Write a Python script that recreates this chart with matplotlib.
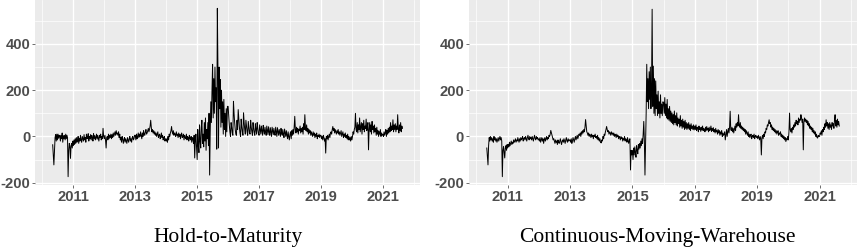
import numpy as np
import pandas as pd
import matplotlib
matplotlib.use("Agg")
import matplotlib.pyplot as plt

# 周数据, 每年一行 (2010 从 5 月 2 日开始, 2021 到 8 月)
htm_2010 = [-36, -80, -123, -60, -5, 8, -20, 10, -15, 10, -8, 5, 0, -20, 5, -10, 15, -25, 3, -10,
            5, -15, 10, -10, 5, -5, -174, -60, -30, -45, -95, -40, -30, -50, -20]
htm_2011 = [-40, -15, -35, -10, -30, -5, -25, -15, 0, -30, -10, -20, 5, -15, -25, 0, -10, -20, 8, -15,
            -5, -25, 10, -10, -5, 12, -20, 0, -10, 8, -15, 5, -5, -20, 12, -8, 3, -15, -5, 10,
            -12, 5, -8, -20, 5, -5, 10, -15, 0, -10, 35, 0]
htm_2012 = [-10, 5, -15, -50, -5, 0, -15, 10, -10, 5, -5, 10, -10, 8, -5, 15, 0, 10, 20, 5,
            25, 10, 15, 5, 20, -5, 10, -15, -5, -25, 0, -10, -30, -15, -5, -25, -10, -20, -30, -5,
            -15, -25, -10, 0, -20, -10, -25, -5, 0, -15, -10, 5]
htm_2013 = [5, -15, 10, -10, 0, 15, -5, 10, 0, 20, 5, -10, 15, 0, 25, 10, 5, 20, 30, 10,
            15, 25, 35, 20, 30, 45, 70, 40, 20, 30, 15, 25, 10, 20, 5, 15, 0, 10, 20, -5,
            5, 10, -10, 0, 15, -5, 5, -15, -5, 0, -20, -10]
htm_2014 = [-20, -10, -25, 0, -15, 10, 0, 15, 25, 43, 20, 10, 25, 5, 15, 10, 0, 20, 5, 10,
            -5, 15, 0, 10, -10, 5, 15, -5, 0, 10, -15, 5, -5, -10, 10, -15, 0, -5, -20, 5,
            -10, -15, 0, -25, -5, -10, -30, 5, -93, -20, 10, -40]
htm_2015 = [-100, 30, -40, -70, 50, -20, -50, 40, 70, -30, 10, -45, 60, -20, 80, -60, 30, -10, 60, -40,
            100, -167, 20, 150, 60, 200, 312, 80, 250, 100, 300, 150, 210, -55, 554, 300, -50, 300, 120, 246,
            40, 200, 60, 150, 10, 160, 30, 100, 0, 120, 20, 130]
htm_2016 = [130, 90, 50, 20, 0, 60, 40, 15, 5, 152, 100, 60, 30, 10, 5, 70, 30, 116, 80, 40,
            15, 0, 75, 40, 20, 5, 102, 60, 30, 10, 70, 45, 20, 5, 65, 40, 15, 10, 70, 40,
            20, 5, 60, 35, 15, 5, 55, 30, 10, 60, 35, 15]
htm_2017 = [5, 50, 30, 10, 45, 25, 5, 48, 25, 10, 40, 20, 5, 45, 25, 8, 42, 20, 5, 38,
            20, 0, 40, 25, 8, 35, 15, 5, 40, 20, 0, 38, 20, 5, 30, 15, 0, 35, 15, 5,
            30, 10, -5, 32, 15, 0, 25, 5, -10, 20, 0, -15]
htm_2018 = [10, 20, -10, 25, 5, 30, 10, 40, 87, 30, 15, 40, 20, 35, 10, 30, 25, 45, 15, 35,
            20, 40, 10, 55, 30, 94, 40, 25, 50, 20, 35, 10, 30, 15, 25, 5, 20, 10, 0, 20,
            5, 15, -5, 10, 0, 15, -10, 5, 0, 10, -5, 5]
htm_2019 = [5, -10, 0, -15, 5, -5, -20, -10, -72, 0, -10, 5, -15, 0, 10, -5, 15, 20, 10, 30,
            43, 25, 35, 15, 30, 20, 10, 25, 15, 30, 10, 20, 5, 15, 25, 0, 10, 20, -5, 10,
            0, 15, -5, 5, -10, 10, -15, 0, -15, -5, -20, 0]
htm_2020 = [-15, 0, 20, 10, 30, 40, 100, 30, 20, 60, 15, 50, 30, 80, 20, 40, 60, 10, 55, 30,
            70, 20, 45, 35, 75, 25, 40, 60, -58, 30, 60, 20, 50, 10, 65, 30, 45, 15, 50, 20,
            35, 5, 40, 10, 25, 0, 20, 10, 30, 0, 15, 5]
htm_2021 = [10, 0, 20, 5, 15, 30, 0, 25, 10, 35, 15, 40, 20, 60, 25, 45, 30, 72, 20, 50,
            30, 55, 20, 45, 30, 94, 35, 15, 50, 25, 60, 20, 45, 35]

cmw_2010 = [-50, -90, -123, -40, -5, -20, 0, -15, -5, -20, -10, -25, 0, -15, -5, -20, -10, -25, -15, -5,
            -20, -10, 0, -15, -5, -20, -174, -60, -43, -70, -93, -50, -40, -60, -35]
cmw_2011 = [-50, -35, -45, -25, -40, -30, -20, -35, -25, -30, -15, -25, -20, -10, -25, -15, -20, -5, -15, -25,
            -10, -20, -5, -15, -10, 0, -20, -10, -5, -15, 0, -10, -20, -5, 5, -10, -15, 0, -10, -5,
            -15, 0, -10, -20, -5, 5, -10, -15, 0, -10, -5, -15]
cmw_2012 = [-10, -20, -5, -25, -15, -5, -20, -10, -30, -15, -5, -20, -10, 0, -15, -5, -10, 5, 0, 10,
            26, 15, 5, -5, -15, -10, -20, -30, -15, -25, -20, -35, -15, -25, -30, -20, -10, -25, -35, -20,
            -15, -25, -10, -20, -30, -15, -5, -20, -25, -10, -20, -15]
cmw_2013 = [-15, -25, -10, -30, -20, -5, -15, -25, -10, 0, -15, -5, 5, -10, 0, 10, 5, 15, 0, 20,
            10, 25, 15, 30, 20, 40, 73, 45, 20, 15, 5, 15, 0, 10, 5, -5, 10, 0, 5, -10,
            5, 0, 10, -5, 0, -10, 5, -15, -5, -20, -10, -25]
cmw_2014 = [-28, -15, -20, 0, -10, 10, 5, 20, 30, 43, 30, 20, 25, 10, 20, 15, 5, 20, 10, 15,
            5, 15, 0, 10, 5, -5, 10, 0, 5, -10, 0, -5, -15, 0, -10, -5, -20, -10, -15, 0,
            -20, -10, -15, -25, -5, -20, -30, -15, -10, -145, -60, -80]
cmw_2015 = [-60, -100, -50, -80, -45, -70, -90, -40, -60, -75, -35, -55, -30, -50, -20, -40, -10, -30, 10, 65,
            -20, -167, -40, 100, 312, 150, 250, 120, 280, 160, 300, 120, 220, 550, 130, 304, 100, 250, 90, 240,
            120, 180, 90, 196, 100, 150, 80, 180, 100, 140, 90, 150]
cmw_2016 = [146, 100, 168, 90, 140, 80, 160, 75, 120, 70, 130, 65, 110, 60, 102, 55, 95, 50, 110, 60,
            90, 50, 102, 45, 80, 55, 75, 40, 90, 45, 70, 35, 75, 40, 65, 30, 70, 35, 60, 30,
            55, 35, 60, 30, 50, 25, 55, 35, 45, 30, 50, 28]
cmw_2017 = [45, 30, 50, 25, 40, 35, 20, 45, 30, 38, 22, 40, 28, 45, 25, 35, 30, 20, 40, 25,
            43, 28, 35, 20, 40, 25, 30, 45, 22, 35, 25, 38, 20, 30, 15, 35, 20, 25, 10, 30,
            15, 25, 5, 20, 10, 25, 0, 15, 5, 10, 20, -15]
cmw_2018 = [10, 30, 0, 20, 35, 15, 40, 109, 30, 25, 40, 20, 35, 15, 30, 45, 25, 55, 40, 60,
            45, 94, 50, 40, 60, 35, 45, 30, 40, 25, 35, 20, 30, 10, 25, 15, 5, 20, 0, 10,
            -5, 5, 10, -10, 0, 5, -5, 10, -10, 0, 5, -5]
cmw_2019 = [0, -10, 5, -5, -15, 0, -10, -80, -5, 5, -10, 10, 0, 20, 15, 35, 30, 50, 45, 60,
            72, 55, 60, 40, 50, 30, 40, 25, 35, 20, 30, 15, 25, 10, 20, 25, 5, 15, 10, 20,
            0, 10, -5, 5, -10, 0, -15, -5, -22, -10, -15, 0]
cmw_2020 = [-15, 20, 101, 30, 20, 35, 15, 40, 30, 50, 40, 60, 45, 70, 55, 65, 50, 80, 60, 75,
            70, 94, 80, 60, 75, -58, 60, 80, 65, 75, 60, 70, 50, 65, 45, 55, 35, 45, 30, 40,
            20, 35, 15, 25, 10, 20, 0, 10, -5, -7, 5, 0]
cmw_2021 = [0, 15, 10, 25, 5, 30, 20, 40, 30, 55, 40, 72, 45, 60, 35, 55, 30, 60, 40, 50,
            30, 60, 45, 55, 35, 70, 94, 45, 70, 40, 75, 50, 65, 45]

htm_rows = [htm_2010, htm_2011, htm_2012, htm_2013, htm_2014, htm_2015,
            htm_2016, htm_2017, htm_2018, htm_2019, htm_2020, htm_2021]
cmw_rows = [cmw_2010, cmw_2011, cmw_2012, cmw_2013, cmw_2014, cmw_2015,
            cmw_2016, cmw_2017, cmw_2018, cmw_2019, cmw_2020, cmw_2021]
years = list(range(2010, 2022))

titles = ["Hold-to-Maturity", "Continuous-Moving-Warehouse"]
x_ticks = [2011, 2013, 2015, 2017, 2019, 2021]
y_ticks = [-200, 0, 200, 400]


def build(rows):
    parts = []
    for yr, row in zip(years, rows):
        start = "2010-05-02" if yr == 2010 else f"{yr}-01-01"
        d = pd.date_range(start, periods=len(row), freq="7D")
        parts.append(pd.Series(row, index=d))
    s = pd.concat(parts)
    t = s.index.year + (s.index.dayofyear - 1) / 365.25
    return np.asarray(t), s.values


fig = plt.figure(figsize=(8.58, 2.48), dpi=100)
ax1 = fig.add_axes([0.0408, 0.254, 0.4487, 0.746])
ax2 = fig.add_axes([0.5466, 0.254, 0.4522, 0.746])

for ax, rows, title, cx in [(ax1, htm_rows, titles[0], 0.2655), (ax2, cmw_rows, titles[1], 0.7663)]:
    t, y = build(rows)
    ax.set_facecolor("#EBEBEB")
    ax.plot(t, y, color="black", lw=0.7)
    ax.set_xlim(2009.76, 2022.2)
    ax.set_ylim(-210, 590)
    ax.set_xticks(x_ticks)
    ax.set_xticks([2010, 2012, 2014, 2016, 2018, 2020, 2022], minor=True)
    ax.set_yticks(y_ticks)
    ax.set_yticks([-100, 100, 300, 500], minor=True)
    ax.set_xticklabels([str(v) for v in x_ticks])
    ax.set_yticklabels([str(v) for v in y_ticks])
    ax.grid(which="major", color="white", lw=1.0)
    ax.grid(which="minor", color="white", lw=0.5)
    ax.set_axisbelow(True)
    for s in ax.spines.values():
        s.set_visible(False)
    ax.tick_params(which="major", length=2.5, width=0.5, color="#333333", pad=1)
    ax.tick_params(which="minor", length=0)
    for lab in ax.get_xticklabels() + ax.get_yticklabels():
        lab.set_fontfamily("Liberation Sans")
        lab.set_fontweight("bold")
        lab.set_fontsize(10.6)
        lab.set_color("#4D4D4D")
    fig.text(cx, 0.044, title, ha="center", va="center",
             fontfamily="Liberation Serif", fontsize=15.5)

fig.savefig("out.png", dpi=100)
